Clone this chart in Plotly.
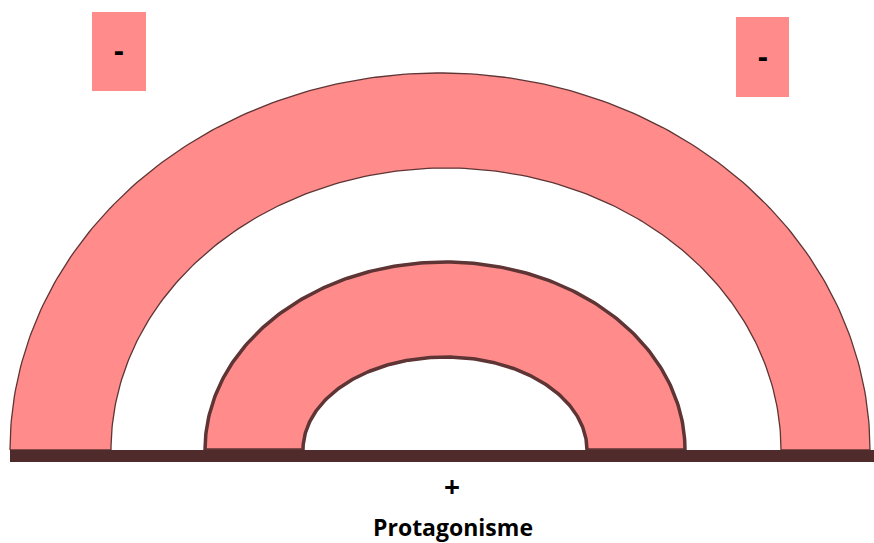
import numpy as np
import plotly.graph_objects as go

# rings: centre x, outer rx, outer ry, inner rx, inner ry, outline width (pixel coords)
ring_names = ["outer", "middle"]
ring_cx = [440, 445]
ring_outer_rx = [430, 240]
ring_outer_ry = [377, 188]
ring_inner_rx = [335, 142]
ring_inner_ry = [282, 93]
ring_cx_inner = [446, 445]
ring_line_w = [1.3, 3.5]

base_y = 450

# the two "-" boxes: x0, x1, y0, y1
box_x0 = [92, 736]
box_x1 = [146, 789]
box_y0 = [12, 17]
box_y1 = [91, 97]
box_labels = ["-", "-"]

bottom_labels = ["+", "Protagonisme"]

PINK = "#FF8B8B"
DARK = "#4F2B2B"
EDGE = "#5E3434"

fig = go.Figure()

t = np.linspace(0, np.pi, 200)
for i, name in enumerate(ring_names):
    xo = ring_cx[i] - ring_outer_rx[i] * np.cos(t)
    yo = base_y - ring_outer_ry[i] * np.sin(t)
    xi = ring_cx_inner[i] + ring_inner_rx[i] * np.cos(t)
    yi = base_y - ring_inner_ry[i] * np.sin(t)
    fig.add_trace(go.Scatter(
        x=np.concatenate([xo, xi, xo[:1]]),
        y=np.concatenate([yo, yi, yo[:1]]),
        mode="lines", fill="toself", fillcolor=PINK,
        line=dict(color=EDGE, width=ring_line_w[i]),
        name=name, hoverinfo="skip",
    ))

shapes = [
    dict(type="rect", x0=10, x1=874, y0=base_y, y1=462,
         fillcolor=DARK, line=dict(width=0), layer="above"),
]
for x0, x1, y0, y1 in zip(box_x0, box_x1, box_y0, box_y1):
    shapes.append(dict(type="rect", x0=x0, x1=x1, y0=y0, y1=y1,
                       fillcolor=PINK, line=dict(width=0)))

annotations = []
for x0, x1, y0, y1, lab in zip(box_x0, box_x1, box_y0, box_y1, box_labels):
    annotations.append(dict(x=(x0 + x1) / 2, y=(y0 + y1) / 2 - 2, text="<b>%s</b>" % lab,
                            showarrow=False,
                            font=dict(size=30, color="black", family="Open Sans")))
annotations.append(dict(x=452, y=486, text="<b>%s</b>" % bottom_labels[0], showarrow=False,
                        font=dict(size=28, color="black", family="Open Sans")))
annotations.append(dict(x=453, y=527, text="<b>%s</b>" % bottom_labels[1], showarrow=False,
                        font=dict(size=23, color="black", family="Open Sans")))

fig.update_layout(
    width=874, height=543,
    margin=dict(l=0, r=0, t=0, b=0),
    paper_bgcolor="white", plot_bgcolor="white",
    showlegend=False,
    xaxis=dict(range=[0, 874], visible=False, fixedrange=True),
    yaxis=dict(range=[543, 0], visible=False, fixedrange=True),
    shapes=shapes, annotations=annotations,
)

fig.write_html("out.html", config={"displayModeBar": False},
               post_script="document.body.style.margin='0';document.body.style.overflow='hidden';")
